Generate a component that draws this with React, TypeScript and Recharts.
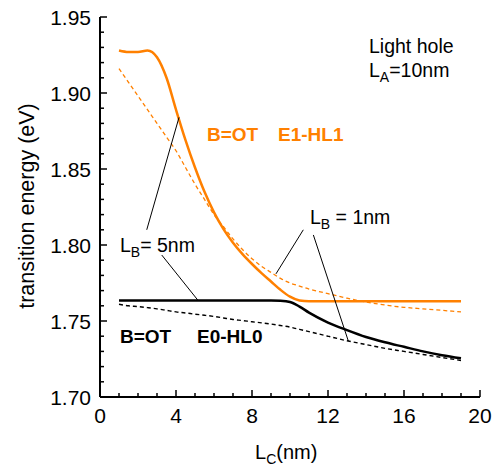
import React from "react";
import { LineChart, Line, XAxis, YAxis, ReferenceLine } from "recharts";

// well width L_C (nm)
const lc = [1, 1.5, 2, 2.5, 3, 3.5, 4, 4.5, 5, 5.5, 6, 6.5, 7, 7.5, 8, 8.5, 9, 9.5, 10, 10.5, 11, 12, 13, 14, 15, 16, 17, 18, 19];

// E1-HL1, L_B = 5nm (solid) and L_B = 1nm (dashed)
const e1Solid = [1.928, 1.927, 1.927, 1.928, 1.9235, 1.91, 1.889, 1.869, 1.851, 1.835, 1.8215, 1.8105, 1.8015, 1.794, 1.7875, 1.7815, 1.776, 1.7705, 1.766, 1.7635, 1.763, 1.763, 1.763, 1.763, 1.763, 1.763, 1.763, 1.763, 1.763];
const e1Dashed = [1.916, 1.907, 1.898, 1.889, 1.88, 1.871, 1.862, 1.851, 1.84, 1.83, 1.82, 1.812, 1.804, 1.797, 1.791, 1.786, 1.782, 1.778, 1.775, 1.773, 1.771, 1.768, 1.765, 1.7625, 1.7605, 1.759, 1.758, 1.757, 1.756];

// E0-HL0, L_B = 5nm (solid) and L_B = 1nm (dashed)
const e0Solid = [1.7635, 1.7635, 1.7635, 1.7635, 1.7635, 1.7635, 1.7635, 1.7635, 1.7635, 1.7635, 1.7635, 1.7635, 1.7635, 1.7635, 1.7635, 1.7635, 1.7635, 1.7633, 1.7625, 1.7595, 1.7555, 1.749, 1.744, 1.7395, 1.736, 1.733, 1.73, 1.7275, 1.7255];
const e0Dashed = [1.761, 1.76, 1.7595, 1.7588, 1.758, 1.757, 1.756, 1.7553, 1.7545, 1.7538, 1.753, 1.752, 1.751, 1.7503, 1.7495, 1.7488, 1.748, 1.747, 1.746, 1.7445, 1.743, 1.74, 1.737, 1.7345, 1.732, 1.73, 1.728, 1.726, 1.724];

const xTicks = [0, 1, 2, 3, 4, 5, 6, 7, 8, 9, 10, 11, 12, 13, 14, 15, 16, 17, 18, 19, 20];
const xLabels = [0, 4, 8, 12, 16, 20];
const yTicks = [1.7, 1.71, 1.72, 1.73, 1.74, 1.75, 1.76, 1.77, 1.78, 1.79, 1.8, 1.81, 1.82, 1.83, 1.84, 1.85, 1.86, 1.87, 1.88, 1.89, 1.9, 1.91, 1.92, 1.93, 1.94, 1.95];
const yLabels = ["1.70", "1.75", "1.80", "1.85", "1.90", "1.95"];

// pointer lines from the L_B labels to the curves
const pointers = [
  [{ x: 2.46, y: 1.81 }, { x: 4.16, y: 1.884 }],
  [{ x: 3.25, y: 1.7934 }, { x: 5.17, y: 1.7634 }],
  [{ x: 10.7, y: 1.81 }, { x: 9.26, y: 1.781 }],
  [{ x: 11.23, y: 1.8066 }, { x: 13.07, y: 1.7368 }],
];

const table = lc.map((v, i) => ({
  lc: v,
  e1Solid: e1Solid[i],
  e1Dashed: e1Dashed[i],
  e0Solid: e0Solid[i],
  e0Dashed: e0Dashed[i],
}));

const FONT = "'Liberation Sans', Arial, sans-serif";
const ORANGE = "#FF8000";

const isYMajor = (v: number) => yLabels.includes(v.toFixed(2));

function BottomTick(props: any) {
  const { x, y, payload } = props;
  const major = xLabels.includes(payload.value);
  return (
    <g>
      <line x1={x} y1={y} x2={x} y2={y - (major ? 7 : 4)} stroke="#000" strokeWidth={1.5} />
      {major && (
        <text x={x} y={y + 26} textAnchor="middle" fontSize={21} fontFamily={FONT} fill="#000">
          {payload.value}
        </text>
      )}
    </g>
  );
}

function TopTick(props: any) {
  const { x, y, payload } = props;
  const major = xLabels.includes(payload.value);
  return <line x1={x} y1={y} x2={x} y2={y + (major ? 7 : 4)} stroke="#000" strokeWidth={1.5} />;
}

function LeftTick(props: any) {
  const { x, y, payload } = props;
  const major = isYMajor(payload.value);
  return (
    <g>
      <line x1={x} y1={y} x2={x + (major ? 7 : 4)} y2={y} stroke="#000" strokeWidth={1.5} />
      {major && (
        <text x={x - 9} y={y + 7.5} textAnchor="end" fontSize={21} fontFamily={FONT} fill="#000">
          {payload.value.toFixed(2)}
        </text>
      )}
    </g>
  );
}

function RightTick(props: any) {
  const { x, y, payload } = props;
  const major = isYMajor(payload.value);
  return <line x1={x} y1={y} x2={x - (major ? 7 : 4)} y2={y} stroke="#000" strokeWidth={1.5} />;
}

const axisLine = { stroke: "#000", strokeWidth: 2 };

export default function App() {
  return (
    <div style={{ position: "absolute", left: 0, top: 0, width: 500, height: 466, background: "#fff" }}>
      <LineChart width={500} height={466} data={table} margin={{ top: 17, right: 20, bottom: 0, left: 0 }}>
        <XAxis dataKey="lc" type="number" domain={[0, 20]} ticks={xTicks} interval={0} height={69}
          tickSize={0} tickMargin={0} tickLine={false} axisLine={axisLine} tick={<BottomTick />} allowDataOverflow />
        <XAxis xAxisId="top" orientation="top" dataKey="lc" type="number" domain={[0, 20]} ticks={xTicks} interval={0}
          height={0} tickSize={0} tickMargin={0} tickLine={false} axisLine={axisLine} tick={<TopTick />} allowDataOverflow />
        <YAxis type="number" domain={[1.7, 1.95]} ticks={yTicks} interval={0} width={100}
          tickSize={0} tickMargin={0} tickLine={false} axisLine={axisLine} tick={<LeftTick />} allowDataOverflow />
        <YAxis yAxisId="right" orientation="right" type="number" domain={[1.7, 1.95]} ticks={yTicks} interval={0} width={0}
          tickSize={0} tickMargin={0} tickLine={false} axisLine={axisLine} tick={<RightTick />} allowDataOverflow />

        <Line dataKey="e1Dashed" type="monotone" stroke={ORANGE} strokeWidth={1.3} strokeDasharray="4 3" dot={false} isAnimationActive={false} />
        <Line dataKey="e0Dashed" type="monotone" stroke="#000" strokeWidth={1.4} strokeDasharray="4 3" dot={false} isAnimationActive={false} />
        <Line dataKey="e0Solid" type="monotone" stroke="#000" strokeWidth={2.5} dot={false} isAnimationActive={false} />
        <Line dataKey="e1Solid" type="monotone" stroke={ORANGE} strokeWidth={2.5} dot={false} isAnimationActive={false} />

        {pointers.map((seg, i) => (
          <ReferenceLine key={i} segment={seg} stroke="#000" strokeWidth={1} />
        ))}
      </LineChart>

      <svg width={500} height={466} style={{ position: "absolute", left: 0, top: 0, pointerEvents: "none" }}
        fontFamily={FONT}>
        <text x={27} y={206} transform="rotate(-90 27 206)" textAnchor="middle" dominantBaseline="central" fontSize={21.5}>
          transition energy (eV)
        </text>
        <text x={255} y={459} fontSize={20}>
          L<tspan fontSize={14} dy={5}>C</tspan><tspan dy={-5}>(nm)</tspan>
        </text>
        <text x={369} y={53} fontSize={19.5}>Light hole</text>
        <text x={369} y={77} fontSize={19.5}>
          L<tspan fontSize={14} dy={5}>A</tspan><tspan dy={-5}>=10nm</tspan>
        </text>
        <text x={207} y={141} fontSize={19} fontWeight="bold" fill={ORANGE}>B=OT</text>
        <text x={278} y={141} fontSize={19} fontWeight="bold" fill={ORANGE}>E1-HL1</text>
        <text x={120} y={343} fontSize={19} fontWeight="bold">B=OT</text>
        <text x={197} y={343} fontSize={19} fontWeight="bold">E0-HL0</text>
        <text x={120} y={252} fontSize={19.5}>
          L<tspan fontSize={14} dy={5}>B</tspan><tspan dy={-5}>= 5nm</tspan>
        </text>
        <text x={310} y={224} fontSize={19.5}>
          L<tspan fontSize={14} dy={5}>B</tspan><tspan dy={-5}> = 1nm</tspan>
        </text>
      </svg>
    </div>
  );
}
